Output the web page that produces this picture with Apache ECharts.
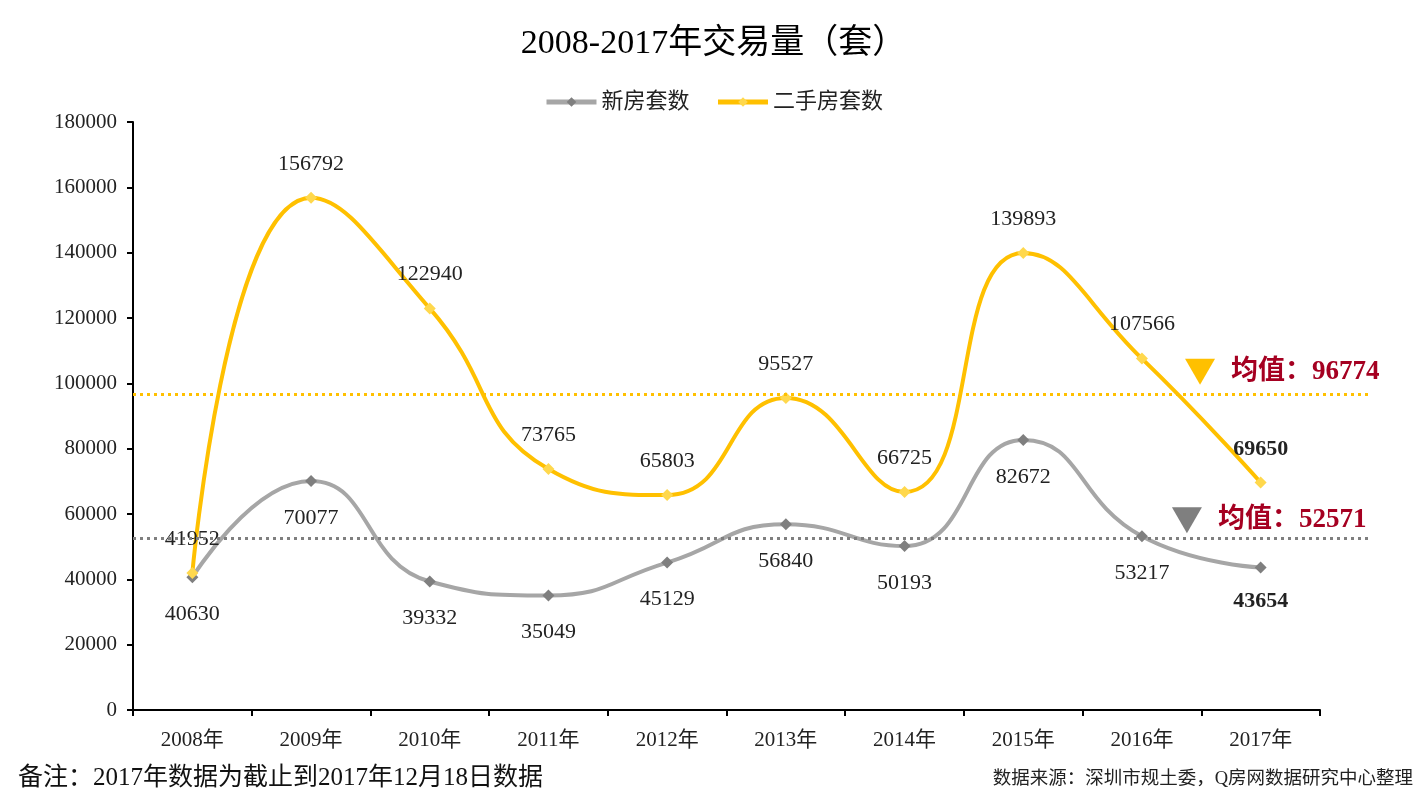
<!DOCTYPE html>
<html><head><meta charset="utf-8">
<script src="https://cdn.jsdelivr.net/npm/echarts@6/dist/echarts.min.js"></script>
<style>html,body{margin:0;padding:0;background:#fff}#c{width:1427px;height:802px}</style>
</head><body><div id="c"></div>
<script>
const categories = ['2008年','2009年','2010年','2011年','2012年','2013年','2014年','2015年','2016年','2017年'];
const newHomes = [40630,70077,39332,35049,45129,56840,50193,82672,53217,43654];
const resaleHomes = [41952,156792,122940,73765,65803,95527,66725,139893,107566,69650];
const meanNew = 52571;
const meanResale = 96774;
const yTicks = [0,20000,40000,60000,80000,100000,120000,140000,160000,180000];

const FONT = '"Liberation Serif","Noto Sans CJK SC",serif';
const GRAY = '#a6a6a6', GRAY_D = '#7f7f7f', YEL = '#ffc000', RED = '#a50021';

const chart = echarts.init(document.getElementById('c'));
const lastIdx = categories.length - 1;
function labelData(arr, boldOffset){
  return arr.map((v,i)=> i===lastIdx ? {value:v, label:{fontWeight:'bold', offset:boldOffset}} : v);
}
chart.setOption({
  animation:false,
  textStyle:{fontFamily:FONT},
  title:{text:'2008-2017年交易量（套）', left:'center', top:22,
    textStyle:{fontFamily:FONT, fontSize:34, fontWeight:'normal', color:'#000'}},
  legend:{top:86, left:'center', itemWidth:50, itemHeight:12, itemGap:26,
    lineStyle:{width:5},
    textStyle:{fontFamily:FONT, fontSize:22, color:'#222'},
    data:['新房套数','二手房套数']},
  grid:[
    {left:133, right:107, top:122, bottom:92},
    {left:133, right:57, top:122, bottom:92}
  ],
  xAxis:[
    {type:'category', data:categories, gridIndex:0, boundaryGap:true,
     axisLine:{lineStyle:{color:'#000', width:2}},
     axisTick:{show:true, length:6, lineStyle:{color:'#000', width:2}},
     axisLabel:{fontFamily:FONT, fontSize:21, color:'#222', margin:20}},
    {type:'value', gridIndex:1, min:0, max:1, show:false}
  ],
  yAxis:[
    {type:'value', gridIndex:0, min:0, max:180000, interval:20000,
     axisLine:{show:true, lineStyle:{color:'#000', width:2}},
     axisTick:{show:true, length:6, lineStyle:{color:'#000', width:2}},
     splitLine:{show:false},
     axisLabel:{fontFamily:FONT, fontSize:21, color:'#222', margin:16,
       formatter:(v)=> yTicks.includes(v) ? String(v) : ''}},
    {type:'value', gridIndex:1, min:0, max:180000, show:false}
  ],
  series:[
    {name:'新房套数', type:'line', xAxisIndex:0, yAxisIndex:0, smooth:0.5,
     data:labelData(newHomes,[0,-3]),
     lineStyle:{color:GRAY, width:4}, itemStyle:{color:GRAY_D},
     symbol:'diamond', symbolSize:12, z:3,
     label:{show:true, position:'bottom', distance:20, fontFamily:FONT, fontSize:22, color:'#222'}},
    {name:'二手房套数', type:'line', xAxisIndex:0, yAxisIndex:0, smooth:0.5,
     data:labelData(resaleHomes,[0,1]),
     lineStyle:{color:YEL, width:4}, itemStyle:{color:'#ffd84d'},
     symbol:'diamond', symbolSize:12, z:4,
     label:{show:true, position:'top', distance:17, fontFamily:FONT, fontSize:22, color:'#222'}},
    {name:'meanlines', type:'line', xAxisIndex:1, yAxisIndex:1, data:[], silent:true,
     markLine:{symbol:'none', silent:true, label:{show:false},
       data:[
         {yAxis:meanResale, lineStyle:{color:YEL, type:[3,4], width:3}},
         {yAxis:meanNew, lineStyle:{color:'#7f7f7f', type:[3,4], width:3}}
       ]},
     markPoint:{silent:true, symbol:'triangle', symbolRotate:180,
       data:[
         {coord:[0.8626, meanResale], symbolSize:[30,26], symbolOffset:[0,-22],
          itemStyle:{color:YEL},
          label:{show:true, position:'right', distance:16, formatter:'均值：'+meanResale,
            fontFamily:FONT, fontSize:27, fontWeight:'bold', color:RED}},
         {coord:[0.852, meanNew], symbolSize:[30,26], symbolOffset:[0,-18],
          itemStyle:{color:'#7f7f7f'},
          label:{show:true, position:'right', distance:16, formatter:'均值：'+meanNew,
            fontFamily:FONT, fontSize:27, fontWeight:'bold', color:RED}}
       ]}}
  ],
  graphic:[
    {type:'text', left:18, top:766, style:{text:'备注：2017年数据为截止到2017年12月18日数据',
      font:'25px '+FONT, fill:'#111'}},
    {type:'text', right:14, top:770, style:{text:'数据来源：深圳市规土委，Q房网数据研究中心整理',
      font:'18.5px '+FONT, fill:'#222'}}
  ]
});
</script></body></html>
